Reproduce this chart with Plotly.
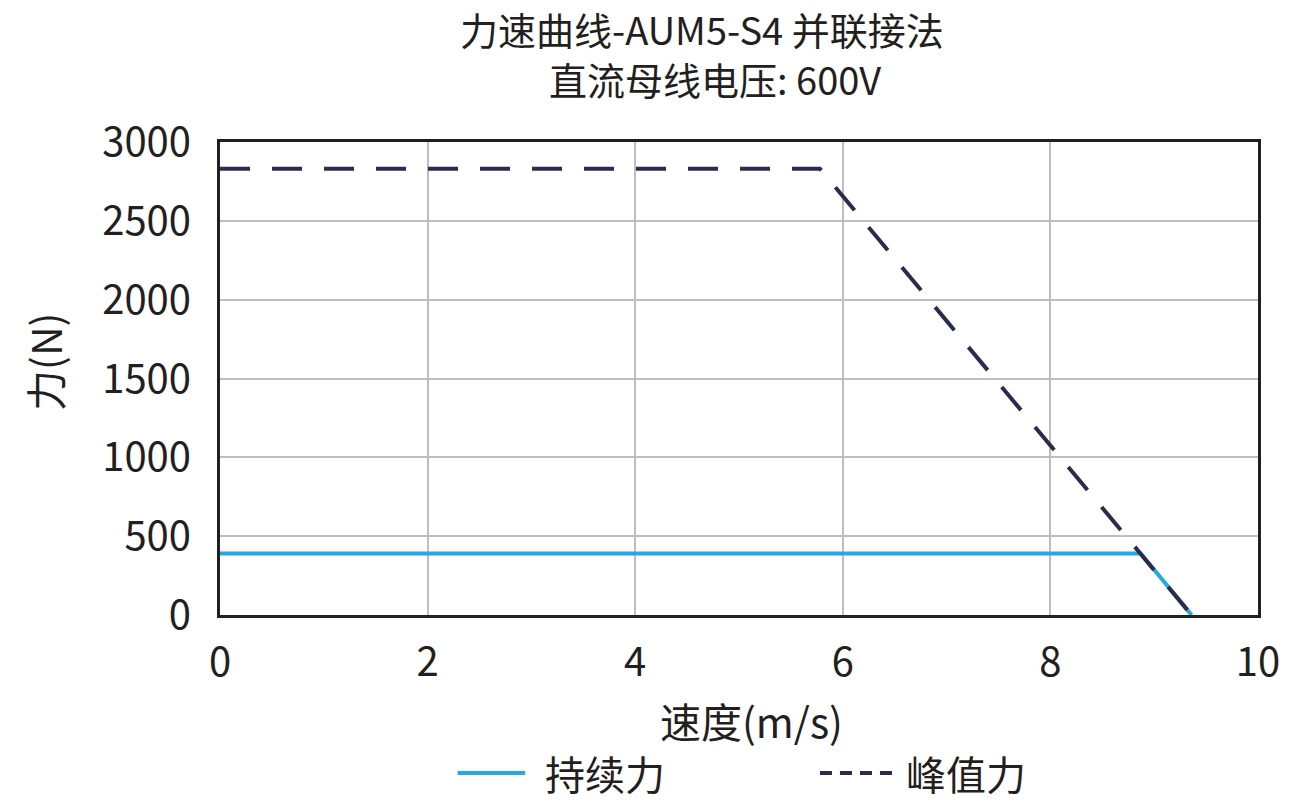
import plotly.graph_objects as go

# force-speed curve data
speed_cont = [0, 8.87, 9.36]
force_cont = [390, 390, 0]
speed_peak = [0, 5.78, 9.36]
force_peak = [2830, 2830, 0]

x_ticks = [0, 2, 4, 6, 8, 10]
y_ticks = [0, 500, 1000, 1500, 2000, 2500, 3000]

title_1 = "力速曲线-AUM5-S4 并联接法"
title_2 = "直流母线电压: 600V"
x_title = "速度(m/s)"
y_title = "力(N)"

font_name = "Noto Sans CJK SC"
text_col = "#231F20"
blue = "#29A8E0"
navy = "#2A2C4E"

fig = go.Figure()
fig.add_trace(go.Scatter(x=speed_cont, y=force_cont, mode="lines", name="持续力",
                         line=dict(color=blue, width=4), showlegend=False))
fig.add_trace(go.Scatter(x=speed_peak, y=force_peak, mode="lines", name="峰值力",
                         line=dict(color=navy, width=4, dash="30px,22px"), showlegend=False))

# legend drawn by hand so the line samples are as long as in the original
leg_y = -0.334
fig.add_shape(type="line", xref="paper", yref="paper", x0=0.229, x1=0.294, y0=leg_y, y1=leg_y,
              line=dict(color=blue, width=4))
fig.add_shape(type="line", xref="paper", yref="paper", x0=0.578, x1=0.650, y0=leg_y, y1=leg_y,
              line=dict(color=navy, width=4, dash="12px,8px"))
fig.add_annotation(text="持续力", xref="paper", yref="paper", x=0.311, y=leg_y,
                   xanchor="left", yanchor="middle", showarrow=False,
                   font=dict(family=font_name, size=40, color=text_col))
fig.add_annotation(text="峰值力", xref="paper", yref="paper", x=0.659, y=leg_y,
                   xanchor="left", yanchor="middle", showarrow=False,
                   font=dict(family=font_name, size=40, color=text_col))

# two title lines (they are not centred on the same point in the original)
fig.add_annotation(text=title_1, xref="paper", yref="paper", x=0.4644, y=1.240,
                   xanchor="center", yanchor="middle", showarrow=False,
                   font=dict(family=font_name, size=38, color=text_col))
fig.add_annotation(text=title_2, xref="paper", yref="paper", x=0.4769, y=1.135,
                   xanchor="center", yanchor="middle", showarrow=False,
                   font=dict(family=font_name, size=38, color=text_col))

# axis titles placed as annotations, they sit a little off-centre in the original
fig.add_annotation(text=x_title, xref="paper", yref="paper", x=0.5116, y=-0.222,
                   xanchor="center", yanchor="middle", showarrow=False,
                   font=dict(family=font_name, size=41, color=text_col))
fig.add_annotation(text=y_title, xref="paper", yref="paper", x=-0.1696, y=0.535,
                   xanchor="center", yanchor="middle", showarrow=False, textangle=-90,
                   font=dict(family=font_name, size=41, color=text_col))

# page has an 8px body margin, so the figure is a bit smaller than the window
fig.update_layout(
    width=1298, height=796,
    margin=dict(l=212, r=48, t=134, b=189),
    paper_bgcolor="white", plot_bgcolor="white",
    font=dict(family=font_name, size=40, color=text_col),
)
fig.update_xaxes(range=[0, 10], tickvals=x_ticks, ticks="", ticklabelstandoff=10,
                 tickfont=dict(size=40), automargin=False,
                 showgrid=True, gridcolor="#BEBEBE", gridwidth=1.5,
                 showline=True, linecolor=text_col, linewidth=3, mirror=True,
                 zeroline=False)
fig.update_yaxes(range=[0, 3000], tickvals=y_ticks, ticks="", ticklabelstandoff=18,
                 tickfont=dict(size=40), automargin=False,
                 showgrid=True, gridcolor="#BEBEBE", gridwidth=1.5,
                 showline=True, linecolor=text_col, linewidth=3, mirror=True,
                 zeroline=False)

fig.write_html("out.html")
